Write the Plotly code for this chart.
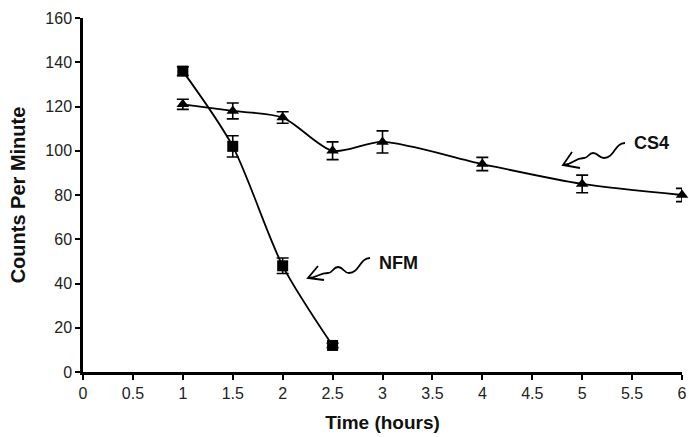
import plotly.graph_objects as go

# ---- data ----
nfm_time = [1, 1.5, 2, 2.5]
nfm_cpm = [136, 102, 48, 12]
nfm_err = [2, 4.8, 3.5, 1]

cs4_time = [1, 1.5, 2, 2.5, 3, 4, 5, 6]
cs4_cpm = [121, 118, 115, 100, 104, 94, 85, 80]
cs4_err = [2.3, 3.6, 2.6, 4, 5, 3, 4, 3]

x_ticks = [0, 0.5, 1, 1.5, 2, 2.5, 3, 3.5, 4, 4.5, 5, 5.5, 6]
y_ticks = [0, 20, 40, 60, 80, 100, 120, 140, 160]

# body margin is removed in the page (post_script), figure fills the window
W, H = 689, 437
ML, MR, MT, MB = 83, 7, 18, 437 - 372
XR = (0, 6)
YR = (0, 160)
sx = (XR[1] - XR[0]) / (W - ML - MR)
sy = (YR[1] - YR[0]) / (H - MT - MB)


def px2d(px, py):
    return (XR[0] + (px - ML) * sx, YR[1] - (py - MT) * sy)


fig = go.Figure()

fig.add_trace(go.Scatter(
    x=cs4_time, y=cs4_cpm, mode="lines+markers", name="CS4",
    line=dict(color="black", width=1.8, shape="spline", smoothing=0.8),
    marker=dict(symbol="triangle-up", size=11, color="black"),
    error_y=dict(type="data", array=cs4_err, visible=True, color="black",
                 thickness=1.6, width=6),
    cliponaxis=False,
))
fig.add_trace(go.Scatter(
    x=nfm_time, y=nfm_cpm, mode="lines+markers", name="NFM",
    line=dict(color="black", width=1.8, shape="spline", smoothing=0.8),
    marker=dict(symbol="square", size=11, color="black"),
    error_y=dict(type="data", array=nfm_err, visible=True, color="black",
                 thickness=1.6, width=6),
    cliponaxis=False,
))


def arrow_shapes(wave_px, arm1_px, tip_px, arm2_px):
    shapes = []
    w = [px2d(*p) for p in wave_px]
    p = f"M {w[0][0]},{w[0][1]}"
    for i in range(1, len(w)):
        x0, y0 = w[i - 1]
        x1, y1 = w[i]
        cx0 = x0 + (x1 - x0) * 0.5
        p += f" C {cx0},{y0} {cx0},{y1} {x1},{y1}"
    shapes.append(dict(type="path", path=p, xref="x", yref="y",
                       line=dict(color="black", width=1.8)))
    a1 = px2d(*arm1_px)
    t = px2d(*tip_px)
    a2 = px2d(*arm2_px)
    shapes.append(dict(type="path",
                       path=f"M {a1[0]},{a1[1]} L {t[0]},{t[1]} L {a2[0]},{a2[1]}",
                       xref="x", yref="y",
                       line=dict(color="black", width=1.8)))
    return shapes


shapes = []
shapes += arrow_shapes([(370, 258), (349, 273), (338, 267), (328, 273), (308, 278)],
                       (318, 266), (308, 278), (324, 280))
shapes += arrow_shapes([(625, 143), (604, 158), (593, 153), (584, 158), (563, 165)],
                       (572, 152), (563, 165), (580, 168))

nfm_lab = px2d(398, 263)
cs4_lab = px2d(651, 143)

fig.update_layout(
    width=W, height=H,
    margin=dict(l=ML, r=MR, t=MT, b=MB, autoexpand=False),
    paper_bgcolor="white", plot_bgcolor="white",
    showlegend=False,
    font=dict(family="Liberation Sans, Arial, sans-serif", color="#222"),
    shapes=shapes,
    annotations=[
        dict(x=nfm_lab[0], y=nfm_lab[1], xref="x", yref="y", text="<b>NFM</b>",
             showarrow=False, font=dict(size=18, color="#111")),
        dict(x=cs4_lab[0], y=cs4_lab[1], xref="x", yref="y", text="<b>CS4</b>",
             showarrow=False, font=dict(size=18, color="#111")),
    ],
    xaxis=dict(
        range=list(XR), tickmode="array", tickvals=x_ticks,
        ticktext=[f"{v:g}" for v in x_ticks], automargin=False,
        ticklabeloverflow="allow",
        showgrid=False, zeroline=False, showline=True, linecolor="black",
        linewidth=2.5, ticks="outside", ticklen=5, tickwidth=2, tickcolor="black",
        tickfont=dict(size=16, color="#222"),
        title=dict(text="<b>Time (hours)</b>", font=dict(size=19, color="#111")),
    ),
    yaxis=dict(
        range=list(YR), tickmode="array", tickvals=y_ticks, automargin=False,
        ticklabeloverflow="allow",
        showgrid=False, zeroline=False, showline=True, linecolor="black",
        linewidth=2.5, ticks="outside", ticklen=5, tickwidth=2, tickcolor="black",
        tickfont=dict(size=16, color="#222"),
        title=dict(text="<b>Counts Per Minute</b>", font=dict(size=20, color="#111")),
    ),
)

fig.write_html(
    "out.html",
    config={"displayModeBar": False},
    post_script="document.body.style.margin='0px';document.body.style.overflow='hidden';",
)
